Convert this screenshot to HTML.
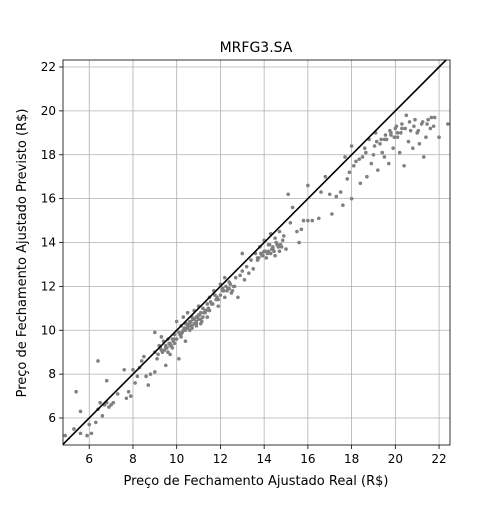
<!DOCTYPE html>
<html><head><meta charset="utf-8"><style>
body{margin:0;background:#fff;width:500px;height:500px;overflow:hidden;font-family:"Liberation Sans","DejaVu Sans",sans-serif}
</style></head><body>
<svg id="chart" width="500" height="500" xmlns="http://www.w3.org/2000/svg">
<rect width="500" height="500" fill="#fff"/>
<g id="grid"></g>
<g id="pts"></g>
<g id="axes"></g>
<text x="256" y="52" text-anchor="middle" font-size="14" font-family="DejaVu Sans, sans-serif">MRFG3.SA</text>
<text x="256" y="485" text-anchor="middle" font-size="13" font-family="DejaVu Sans, sans-serif">Preço de Fechamento Ajustado Real (R$)</text>
<text x="26" y="253" text-anchor="middle" font-size="13" font-family="DejaVu Sans, sans-serif" transform="rotate(-90 26 253)">Preço de Fechamento Ajustado Previsto (R$)</text>
</svg>
<script>
const xTicks=[6,8,10,12,14,16,18,20,22];
const yTicks=[6,8,10,12,14,16,18,20,22];
const actual=[4.9,5.3,5.4,5.6,5.6,5.9,6.0,6.1,6.3,6.4,6.4,6.5,6.6,6.7,6.8,6.9,7.0,7.1,6.8,7.3,7.6,7.7,7.8,7.9,8.0,8.1,8.2,8.3,8.4,8.5,8.6,8.7,8.8,9.0,9.0,9.0,9.1,9.2,9.3,9.3,9.4,9.5,9.5,9.6,9.6,9.7,9.7,9.8,9.8,9.9,9.9,10.0,10.0,10.1,10.1,10.2,10.2,10.3,10.3,10.4,10.4,10.5,10.5,10.6,10.6,10.7,10.7,10.8,10.8,10.9,10.9,11.0,11.0,11.1,11.1,11.2,11.2,11.3,11.4,11.4,11.5,11.5,11.6,11.7,11.8,11.9,12.0,12.0,12.1,12.2,12.2,12.3,12.4,12.5,12.6,12.7,12.8,12.9,13.0,13.0,13.1,13.2,13.3,13.4,13.5,13.6,13.7,13.8,13.9,14.0,14.0,14.1,14.2,14.3,14.3,14.4,14.5,14.5,14.6,14.7,14.7,14.8,14.9,15.0,15.1,15.2,15.3,15.5,15.6,15.7,15.8,16.0,16.0,16.2,16.5,16.6,16.8,17.0,17.1,17.3,17.5,17.6,17.7,17.8,17.9,18.0,18.0,18.1,18.2,18.4,18.5,18.6,18.7,18.8,18.9,19.0,19.1,19.2,19.3,19.4,19.5,19.6,19.7,19.8,19.9,20.0,20.1,20.2,20.3,20.4,20.5,20.6,20.7,20.8,20.9,21.0,21.1,21.2,21.3,21.4,21.5,21.6,21.8,22.0,22.4,
10.5,10.6,10.8,10.9,11.0,11.1,10.7,10.4,9.5,9.7,9.9,10.2,11.3,10.9,10.6,14.2,14.4,14.6,13.9,13.7,12.1,12.4,11.9,19.8,20.1,20.3,19.5,
10.35,10.45,10.55,10.65,10.75,10.85,10.95,11.05,11.15,11.25,11.35,10.25,10.15,9.85,9.75,9.65,9.55,9.45,9.35,9.25,9.15,11.45,11.55,11.65,11.75,11.85,12.15,12.25,12.35,12.45,12.55,12.65,13.75,13.85,13.95,14.05,14.15,14.25,14.35,14.45,14.55,14.65,14.75,14.85,19.05,19.15,19.35,19.55,19.75,19.95,20.05,20.25,20.45,20.65,20.85,21.05,21.25,21.45,21.65,21.75,18.35,18.65];
const predicted=[5.2,5.5,7.2,6.3,5.3,5.2,5.7,5.3,5.8,8.6,6.4,6.7,6.1,6.6,6.7,6.5,6.6,6.7,7.7,7.1,8.2,6.9,7.2,7.0,8.2,7.6,7.9,8.3,8.6,8.8,7.9,7.5,8.0,8.1,9.9,9.0,8.7,9.3,9.1,9.7,9.5,9.3,8.4,9.6,9.0,9.4,8.9,9.6,9.2,9.8,9.4,10.4,9.6,9.9,8.7,10.2,9.7,10.6,10.0,10.3,9.5,10.8,10.1,10.4,10.0,10.6,10.2,10.9,10.3,10.6,10.2,11.1,10.5,10.8,10.3,11.0,10.6,10.9,11.2,10.6,11.5,10.9,11.2,11.8,11.4,11.1,12.1,11.6,11.9,12.4,11.5,11.8,12.2,11.7,12.0,12.4,11.5,12.5,13.5,12.7,12.3,12.9,12.6,13.2,12.8,13.5,13.3,13.8,13.4,14.1,13.6,13.3,13.9,14.4,13.5,13.8,14.2,13.4,13.9,14.5,13.6,13.8,14.3,13.7,16.2,14.9,15.6,14.5,14.0,14.6,15.0,16.6,15.0,15.0,15.1,16.3,17.0,16.2,15.3,16.1,16.3,15.7,17.9,16.9,17.2,16.0,18.4,17.5,17.7,16.7,17.9,18.3,17.0,18.7,17.6,18.0,19.0,17.3,18.5,18.1,17.9,18.7,17.6,19.0,18.3,19.2,18.8,18.1,19.4,17.5,19.8,18.6,19.1,18.3,19.6,19.0,18.5,19.4,17.9,18.8,19.6,19.2,19.7,18.8,19.4,
10.2,10.3,10.5,10.4,10.7,10.5,10.1,10.0,9.2,9.3,9.6,9.8,10.8,10.3,10.2,13.6,13.7,13.9,13.5,13.2,11.8,11.9,11.4,18.9,19.0,19.2,18.7,
10.1,10.3,10.2,10.4,10.5,10.3,10.6,10.7,10.4,10.8,10.9,9.9,9.8,9.5,9.3,9.4,9.2,9.1,9.0,9.2,8.9,11.0,11.3,11.2,11.6,11.5,11.8,12.0,11.9,12.1,11.8,12.0,13.3,13.5,13.4,13.6,13.5,13.9,13.7,13.6,14.0,13.8,13.9,14.1,18.4,18.6,18.7,18.9,19.1,18.8,19.3,19.0,19.2,19.5,19.3,19.1,19.5,19.4,19.7,19.3,17.8,18.1];
const L=63,R=450,T=60,B=445,xmin=4.8,xmax=22.5,ymin=4.77,ymax=22.32;
const sx=v=>L+(v-xmin)/(xmax-xmin)*(R-L);
const sy=v=>B-(v-ymin)/(ymax-ymin)*(B-T);
const NS='http://www.w3.org/2000/svg';
const grid=document.getElementById('grid'),pts=document.getElementById('pts'),axes=document.getElementById('axes');
function mk(tag,attrs,parent){const e=document.createElementNS(NS,tag);for(const k in attrs)e.setAttribute(k,attrs[k]);parent.appendChild(e);return e;}
xTicks.forEach(t=>{const x=sx(t);
const g=mk('line',{x1:x,x2:x,y1:T,y2:B,stroke:'#b0b0b0','stroke-width':0.8},grid);


mk('line',{x1:x,x2:x,y1:B,y2:B+4,stroke:'#000','stroke-width':0.8},axes);
const tx=mk('text',{x:x,y:B+18,'text-anchor':'middle','font-size':12,'font-family':'DejaVu Sans, sans-serif'},axes);tx.textContent=t;

});
yTicks.forEach(t=>{const y=sy(t);
const g=mk('line',{x1:L,x2:R,y1:y,y2:y,stroke:'#b0b0b0','stroke-width':0.8},grid);


mk('line',{x1:L-4,x2:L,y1:y,y2:y,stroke:'#000','stroke-width':0.8},axes);
const tx=mk('text',{x:L-7,y:y+4,'text-anchor':'end','font-size':12,'font-family':'DejaVu Sans, sans-serif'},axes);tx.textContent=t;

});
actual.forEach((a,i)=>{const c=mk('circle',{cx:sx(a),cy:sy(predicted[i]),r:1.8,fill:'#808080'},pts);

});
const lo=xmin,hi=ymax;
const d=mk('line',{x1:sx(lo),y1:sy(lo),x2:sx(hi),y2:sy(hi),stroke:'#000','stroke-width':1.6},axes);


const f=mk('rect',{x:L,y:T,width:R-L,height:B-T,fill:'none',stroke:'#000','stroke-width':0.8},axes);


</script>
</body></html>
